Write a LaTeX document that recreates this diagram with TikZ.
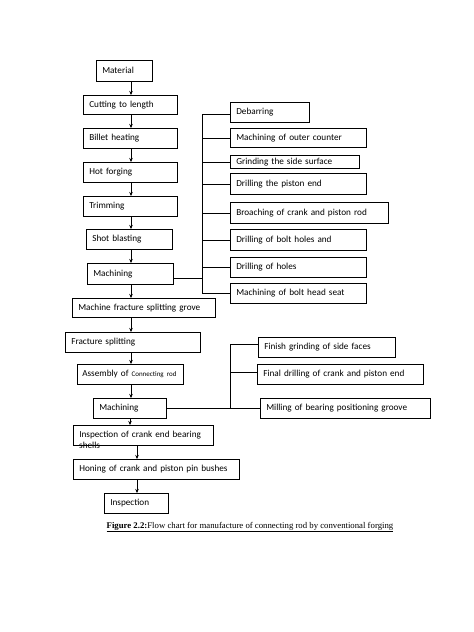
\documentclass[tikz,border=0pt]{standalone}
\usepackage{fontspec}
\usetikzlibrary{arrows.meta}
\newfontfamily\boxfam{Carlito}
\newfontfamily\capfam{Liberation Serif}
\newcommand{\boxfont}{\boxfam\fontsize{9.2}{11}\selectfont}
\begin{document}
\begin{tikzpicture}[x=1pt,y=-1pt,
  box/.style={draw, line width=0.6pt, anchor=north west, inner xsep=6pt, inner ysep=0pt,
              align=left, font=\boxfont},
  arr/.style={line width=0.6pt, -{Stealth[length=4pt,width=3.5pt]}},
  ln/.style={line width=0.6pt}]
\fill[white] (0,0) rectangle (474,632);
\useasboundingbox (0,0) rectangle (474,632);
% left column
\node[box, text width=44pt, minimum height=21pt] (mat) at (96,60) {Material};
\node[box, text width=82pt, minimum height=19pt] (cut) at (83,95) {Cutting to length};
\node[box, text width=82pt, minimum height=20pt] (bil) at (83,128) {Billet heating};
\node[box, text width=82pt, minimum height=20pt] (hot) at (83,162) {Hot forging};
\node[box, text width=82pt, minimum height=20pt] (trim) at (83,196) {Trimming};
\node[box, text width=74pt, minimum height=20pt] (shot) at (86,229) {Shot blasting};
\node[box, text width=74pt, minimum height=21pt] (macha) at (87,263) {Machining};
\node[box, text width=131pt, minimum height=19pt] (mfsg) at (72,298) {Machine fracture splitting grove};
\node[box, text width=123pt, minimum height=20pt] (fs) at (65,332) {Fracture splitting};
\node[box, text width=101pt, inner xsep=2.5pt, minimum height=20pt] (asm) at (77,364) {\hspace*{2.5pt}Assembly of {\fontsize{7}{8}\selectfont Connecting rod}};
\node[box, text width=61pt, minimum height=20pt] (machb) at (93,398) {Machining};
\node[box, text width=128pt, minimum height=20pt,
      label={[anchor=base west, inner sep=0pt, font=\boxfont, xshift=6pt, yshift=-3pt]south west:shells}] (inspa) at (73,425) {Inspection of crank end bearing};
\node[box, text width=154pt, minimum height=20pt] (hon) at (73,459) {Honing of crank and piston pin bushes};
\node[box, text width=52pt, minimum height=20pt] (inspb) at (104,493) {Inspection};
% arrow x positions
\coordinate (ax) at (131,0);
\coordinate (bx) at (130,0);
\coordinate (cx) at (137,0);
\draw[arr] (mat.south -| ax) -- (cut.north -| ax);
\draw[arr] (cut.south -| ax) -- (bil.north -| ax);
\draw[arr] (bil.south -| ax) -- (hot.north -| ax);
\draw[arr] (hot.south -| ax) -- (trim.north -| ax);
\draw[arr] (trim.south -| ax) -- (shot.north -| ax);
\draw[arr] (shot.south -| ax) -- (macha.north -| ax);
\draw[arr] (macha.south -| ax) -- (mfsg.north -| ax);
\draw[arr] (mfsg.south -| ax) -- (fs.north -| ax);
\draw[arr] (fs.south -| ax) -- (asm.north -| ax);
\draw[arr] (asm.south -| ax) -- (machb.north -| ax);
\draw[arr] (machb.south -| bx) -- (inspa.north -| bx);
\draw[arr] (inspa.south -| cx) -- (hon.north -| cx);
\draw[arr] (hon.south -| cx) -- (inspb.north -| cx);
% right column (first machining)
\node[box, text width=67pt, minimum height=20pt] (deb) at (230,102) {Debarring};
\node[box, text width=124pt, minimum height=19pt] (moc) at (230,128) {Machining of outer counter};
\node[box, text width=117pt, minimum height=13pt] (gss) at (230,155) {Grinding the side surface};
\node[box, text width=124pt, minimum height=21pt] (dpe) at (230,173) {Drilling the piston end};
\node[box, text width=146pt, minimum height=21pt] (bro) at (230,202) {Broaching of crank and piston rod};
\node[box, text width=124pt, minimum height=21pt] (dbh) at (230,229) {Drilling of bolt holes and};
\node[box, text width=124pt, minimum height=20pt] (dh) at (230,257) {Drilling of holes};
\node[box, text width=124pt, minimum height=20pt] (mbs) at (230,283) {Machining of bolt head seat};
\coordinate (vx) at (202,0);
\draw[ln] ([yshift=-2pt]deb.west -| vx) -- ([yshift=0pt]mbs.west -| vx);
\draw[ln] ([yshift=-2pt]deb.west -| vx) -- ([yshift=-2pt]deb.west);
\foreach \n in {moc,gss,dpe,bro,dbh,dh,mbs}
  \draw[ln] (\n.west -| vx) -- (\n.west);
\draw[ln] ([yshift=-4pt]macha.east) -- ([yshift=-4pt]macha.east -| vx);
% right column (second machining)
\node[box, text width=125pt, minimum height=20pt] (fin) at (258,337) {Finish grinding of side faces};
\node[box, text width=154pt, minimum height=20pt] (fdr) at (257,364) {Final drilling of crank and piston end};
\node[box, text width=158pt, minimum height=20pt] (mil) at (260,398) {Milling of bearing positioning groove};
\coordinate (wx) at (230,0);
\draw[ln] ([yshift=3pt]fin.west -| wx) -- (machb.east -| wx);
\draw[ln] ([yshift=3pt]fin.west -| wx) -- ([yshift=3pt]fin.west);
\draw[ln] ([yshift=2pt]fdr.west -| wx) -- ([yshift=2pt]fdr.west);
\draw[ln] (machb.east) -- (mil.west);
% caption
\node[font=\capfam\fontsize{8.75}{10}\selectfont, inner sep=0pt] (cap) at (250,527)
  {\underline{\textbf{Figure 2.2:}Flow chart for manufacture of connecting rod by conventional forging}};
\end{tikzpicture}
\end{document}
